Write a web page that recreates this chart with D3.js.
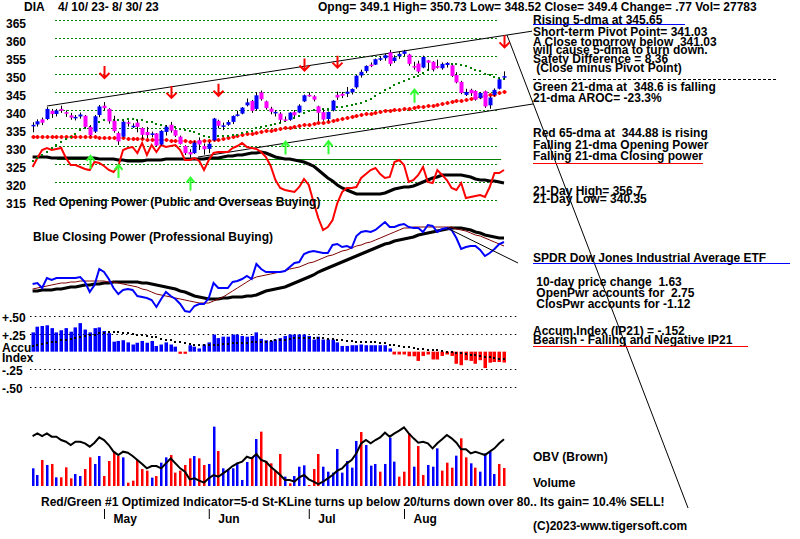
<!DOCTYPE html>
<html><head><meta charset="utf-8">
<script src="https://cdn.jsdelivr.net/npm/d3@7"></script>
<style>
html,body{margin:0;padding:0;background:#fff;}
svg{display:block;}
text{font-family:"Liberation Sans",Arial,sans-serif;font-weight:bold;font-size:12px;white-space:pre;fill:#000;}
</style></head><body>
<svg id="c" width="800" height="539"></svg>
<script>
// ---------------- DATA ----------------
const opens=[335.5,336.0,337.4,337.5,339.8,338.9,340.3,339.4,338.5,337.9,
 338.2,338.4,335.3,334.0,338.6,341.2,340.3,337.0,333.6,332.6,
 336.6,335.6,336.5,335.0,333.9,333.3,333.5,330.4,333.9,335.9,
 334.4,332.6,330.0,328.3,328.0,331.6,330.0,329.2,331.6,337.0,
 335.6,335.9,336.7,338.5,339.0,341.3,342.5,340.3,344.9,342.4,
 340.4,339.2,339.0,337.4,337.3,339.4,339.3,342.4,344.2,343.8,
 341.0,339.4,337.5,339.9,344.2,344.5,344.5,344.9,346.3,349.6,
 350.8,352.6,352.6,354.2,354.4,356.0,353.6,354.9,355.6,355.4,
 352.2,352.9,351.8,353.8,353.4,352.2,351.6,352.5,352.4,349.7,
 347.8,344.2,345.6,345.3,343.3,345.2,341.3,344.2,345.9,349.1];
const closes=[335.87,336.85,336.47,340.30,338.86,339.87,339.77,338.97,337.87,338.09,
 338.75,335.31,333.02,338.26,340.98,340.52,336.85,334.14,331.28,336.74,
 336.19,335.62,335.31,333.10,333.01,333.49,330.12,334.21,335.36,334.27,
 332.87,330.56,328.00,327.65,330.93,330.43,329.08,330.62,337.63,335.63,
 335.73,336.65,338.34,338.77,340.66,342.12,339.79,344.08,342.99,340.54,
 339.52,339.47,337.27,337.15,339.27,338.53,341.22,344.08,344.18,342.89,
 339.22,337.35,339.44,342.61,343.47,343.95,345.09,345.85,349.52,350.61,
 352.25,352.28,354.11,354.38,355.20,352.83,354.59,355.60,356.31,352.83,
 352.16,350.66,354.73,353.14,351.23,351.76,352.81,353.08,349.46,347.66,
 344.75,345.01,344.64,342.89,344.73,340.99,343.47,345.60,348.53,349.40];
const highs=[336.6,337.4,337.9,340.8,340.3,340.3,341.2,339.9,339.2,338.6,
 339.3,338.6,335.8,338.6,341.4,342.2,340.5,338.4,334.0,337.0,
 337.1,336.3,337.2,335.2,335.3,334.0,333.6,334.4,335.8,336.7,
 334.6,332.9,330.2,329.1,331.3,332.4,330.7,331.1,337.8,337.3,
 336.5,337.2,338.5,339.8,340.8,343.2,342.8,345.0,345.4,342.6,
 340.9,340.0,339.4,338.2,339.4,340.0,341.6,344.3,344.9,344.1,
 341.2,340.2,339.6,342.8,345.1,345.0,346.4,346.0,349.8,351.2,
 352.4,353.2,354.3,355.0,355.6,356.7,355.2,356.2,356.7,355.6,
 353.4,353.7,355.1,353.9,353.6,354.0,353.2,353.3,352.6,350.5,
 348.1,345.9,345.9,345.5,345.0,345.4,343.8,346.0,348.8,350.73];
const lows=[333.8,335.4,335.8,337.2,337.8,338.2,339.2,338.1,337.3,337.1,
 337.6,335.0,332.8,333.6,338.0,339.9,336.2,333.7,330.3,332.4,
 335.4,335.0,333.8,332.0,332.2,332.4,329.9,330.1,332.9,333.7,
 332.5,330.4,327.5,326.8,327.8,328.9,327.6,328.0,331.4,334.9,
 334.4,335.6,336.1,338.2,338.8,341.0,339.2,339.8,342.6,340.1,
 338.8,338.2,336.4,336.8,337.0,338.0,339.1,342.2,343.7,342.4,
 336.9,337.0,336.9,339.6,342.8,343.3,343.6,344.3,345.9,349.0,
 350.3,351.9,352.5,353.6,353.7,352.2,353.1,354.2,355.0,352.3,
 351.2,350.2,351.6,351.0,350.7,351.5,351.2,351.8,349.2,347.4,
 344.4,343.9,343.9,342.6,343.0,340.6,340.35,343.8,345.7,348.52];
const ma21=[325.85,326.70,327.57,328.46,329.42,330.25,331.25,332.04,332.62,333.47,
 334.31,334.93,335.34,336.02,336.68,337.25,337.44,337.36,337.23,337.32,
 337.38,337.37,337.29,337.13,336.79,336.53,336.07,335.80,335.63,335.46,
 335.21,334.82,334.47,334.22,333.87,333.36,332.82,332.52,332.69,332.90,
 332.85,332.87,333.00,333.16,333.52,333.96,334.26,334.92,335.34,335.59,
 335.84,336.15,336.47,336.91,337.46,337.82,338.34,339.05,339.70,339.95,
 340.12,340.19,340.33,340.53,340.75,340.91,341.05,341.34,341.60,341.96,
 342.52,343.13,343.83,344.64,345.50,346.15,346.91,347.60,348.18,348.59,
 349.03,349.58,350.40,351.06,351.47,351.86,352.28,352.66,352.84,352.75,
 352.47,352.12,351.76,351.23,350.77,350.09,349.64,349.21,348.88,348.55];
const ma65=[332.5,332.5,332.5,332.5,332.5,332.5,332.5,332.5,332.5,332.5,
 332.4,332.4,332.4,332.4,332.3,332.3,332.2,332.2,332.1,332.1,
 332.0,332.0,331.9,331.9,331.8,331.8,331.7,331.7,331.6,331.5,
 331.4,331.4,331.3,331.2,331.1,331.2,331.3,331.5,331.6,331.8,
 332.0,332.2,332.5,332.7,333.0,333.2,333.4,333.7,333.9,334.1,
 334.3,334.5,334.7,334.9,335.1,335.3,335.5,335.7,335.9,336.1,
 336.3,336.5,336.7,337.0,337.3,337.5,337.8,338.1,338.3,338.6,
 338.8,339.0,339.2,339.4,339.6,339.8,340.0,340.1,340.3,340.4,
 340.6,340.7,340.9,341.0,341.2,341.4,341.7,341.9,342.1,342.4,
 342.6,342.9,343.1,343.4,343.6,343.9,344.1,344.3,344.6,344.88];
const openPower=[65,74,82,84,82,83,84,74,67,67,
 65,63,62,70,69,66,62,60,66,82,
 84,85,79,89,77,87,80,87,85,86,
 87,82,72,72,74,71,62,72,79,80,
 80,80,84,86,89,85,84,83,80,75,
 66,52,44,42,41,40,45,53,47,30,
 14,2,5,12,29,40,44,44,45,54,
 58,62,64,58,54,55,70,72,67,50,
 52,57,65,50,49,62,57,52,44,42,
 49,34,35,36,37,35,45,59,59,62];
const openPowerMA=[75,75,75,75,74,74,74,74,74,74,
 74,74,74,74,73,73,73,73,72,72,
 71,71,71,71,72,72,72,72,73,73,
 73,73,73,73,73,73,73,74,74,74,
 75,76,76,77,77,78,79,79,80,79,
 77,75,74,73,73,72,71,70,68,66,
 62,58,54,51,47,44,42,40,38,38,
 38,38,38,38,39,41,43,44,45,45,
 46,48,50,52,54,55,57,57,57,57,
 57,56,55,53,52,52,51,51,50,49];
const openPowerLevel=73;
const closePower=[36,37,32,42,40,42,42,42,42,42,
 43,38,28,35,51,48,41,32,26,30,
 31,30,24,23,22,20,13,21,28,24,
 21,16,9,8,14,16,16,22,37,32,
 32,32,38,39,41,44,41,56,51,48,
 48,48,48,49,53,57,58,66,68,69,
 68,67,67,75,76,73,74,72,84,88,
 89,88,90,94,98,93,93,95,96,93,
 92,92,88,95,94,88,91,92,90,82,
 71,73,74,74,70,64,67,71,76,78];
const closePowerMA=[29,29,30,30,30,31,31,32,33,33,
 34,35,35,36,36,37,37,38,38,38,
 38,38,38,37,37,36,35,34,33,32,
 31,29,28,26,24,23,22,21,21,21,
 22,22,23,23,23,24,24,25,27,29,
 30,31,32,33,35,37,39,41,43,45,
 48,50,52,54,56,58,60,62,64,66,
 68,70,72,74,76,77,79,80,81,82,
 83,85,86,87,88,89,90,91,92,92,
 92,91,90,88,87,85,84,83,82,82];
const closePowerMA2=[31,32,33,34,35,36,37,37,38,38,
 39,39,39,39,39,39,38,38,37,36,
 35,34,33,31,30,28,26,25,24,23,
 22,21,20,19,18,17,17,17,19,21,
 23,26,29,32,35,38,41,43,44,45,
 46,47,48,49,51,52,53,55,57,58,
 60,62,64,65,67,69,70,72,74,75,
 77,78,80,82,84,86,88,90,92,92,
 93,93,93,93,93,93,93,93,93,91,
 90,89,87,85,84,82,80,78,76,74];
const accum=[.27,.35,.36,.37,.33,.27,.30,.33,.28,.34,
 .40,.31,.27,.33,.34,.29,.26,.14,.15,.16,
 .13,.10,.125,.15,.125,.15,.08,.10,.13,.10,
 .07,-.03,-.03,.09,.07,.045,.10,.13,.24,.19,
 .21,.21,.24,.24,.22,.21,.22,.27,.18,.16,
 .15,.17,.19,.22,.24,.24,.24,.24,.22,.17,
 .21,.17,.17,.17,.13,.08,.08,.09,.09,.10,
 .09,.09,.09,.09,.09,.045,-.04,-.04,-.04,-.065,
 -.065,-.13,-.06,-.04,-.11,-.11,-.06,-.04,-.06,-.17,
 -.19,-.12,-.13,-.17,-.12,-.23,-.155,-.145,-.145,-.152];
const accumMA=[.08,.09,.11,.12,.13,.14,.16,.17,.18,.19,
 .20,.22,.23,.24,.26,.26,.27,.27,.27,.26,
 .26,.25,.24,.23,.22,.21,.20,.18,.17,.16,
 .14,.13,.12,.11,.10,.09,.09,.09,.10,.10,
 .11,.11,.115,.12,.12,.125,.13,.13,.14,.14,
 .15,.16,.17,.17,.18,.19,.19,.19,.19,.19,
 .19,.19,.18,.18,.17,.16,.15,.15,.14,.14,
 .13,.13,.13,.125,.12,.10,.09,.08,.07,.06,
 .05,.04,.035,.03,.03,.02,.01,0,-.01,-.02,
 -.025,-.03,-.04,-.05,-.06,-.07,-.08,-.09,-.10,-.10];
const volume=[27.3,17.0,40.1,32.4,34.0,13.4,13.4,28.8,11.8,18.5,
 15.4,26.2,44.2,34.0,46.3,15.4,38.6,53.0,46.3,44.2,
 5.1,8.2,40.1,26.2,23.7,12.9,15.4,36.0,44.2,47.8,
 20.6,23.7,32.4,42.7,46.3,42.7,32.4,34.0,91.6,54.0,
 27.3,26.2,27.3,36.0,9.3,37.0,44.2,72.5,83.9,38.6,
 35.0,23.2,49.4,14.4,4.1,15.4,29.8,31.9,1.5,26.2,
 49.4,29.8,22.1,20.6,57.1,20.6,38.6,28.3,69.5,83.3,
 63.3,31.4,34.0,22.1,34.0,74.6,37.6,14.4,22.1,81.3,
 29.8,61.7,17.0,32.4,29.8,58.1,23.7,36.0,28.3,46.8,
 73.6,44.2,35.0,28.3,22.1,50.4,53.0,18.5,34.0,27.8];
const volumeUp="BBRBRBRRRBBRRBBRRRRBRRRRRBRBBRRRRRBRRBBRBBBBBBRBRRRRRBRBBBRRRBBBBBBBBRBBBRBBBRRRBRRBBBRRRBRRBRBBBB";
const obv=[152,160,152,160,150,150,140,135,125,135,
 135,130,120,132,148,140,125,105,95,105,
 102,92,80,68,55,62,62,55,70,85,
 70,55,45,22,25,18,12,25,35,30,
 40,50,62,70,75,90,85,98,80,75,
 60,48,35,20,20,15,28,35,22,15,
 8,15,25,35,48,55,70,80,100,130,
 140,130,140,148,162,150,160,168,178,160,
 145,132,135,130,115,130,142,155,145,132,
 112,112,100,105,100,95,105,115,130,142];
const priceTicks=[365,360,355,350,345,340,335,330,325,320,315];
const accumTicks=[0.5,0.25,-0.25,-0.5];
const accumTickLabels=["+.50","+.25","-.25","-.50"];
const monthIdx=[15,37,58,78];
const monthLabels=["May","Jun","Jul","Aug"];
const sellIdx=[15,29,39,57,64,99];
const buyIdx=[12,18,33,53,62,80];
const priceTrendlines=[{i0:3.0,v0:341.1,i1:104.9,v1:361.9},{i0:99.63,v0:360.83,i1:137.65,v1:229.44},{i0:34.74,v0:326.94,i1:105.09,v1:341.67}];
const cpTrendline={i0:87.03,v0:92,i1:101.94,v1:57};

// ---------------- SCALES ----------------
const svg=d3.select("#c");
const x=d3.scaleLinear().domain([0,99]).range([32.6,504]);
const yP=d3.scaleLinear().domain([315,365]).range([200,20]);
const yOP=d3.scaleLinear().domain([0,100]).range([232,132]);
const yCP=d3.scaleLinear().domain([0,100]).range([320,220]);
const yA=d3.scaleLinear().domain([-0.5,0.5]).range([387.3,316]);
const yV=d3.scaleLinear().domain([0,100]).range([486,421.2]);
const yO=d3.scaleLinear().domain([0,260]).range([486.7,400]);
const idx=d3.range(closes.length);
const px=i=>Math.round(x(i));

// ---------------- PRICE PANEL ----------------
svg.append("g").selectAll("line").data(priceTicks).join("line")
 .attr("x1",55).attr("x2",497)
 .attr("y1",d=>Math.round(yP(d))+0.5).attr("y2",d=>Math.round(yP(d))+0.5)
 .attr("stroke","#008000").attr("stroke-dasharray","2,2");
const gy=svg.append("g").call(d3.axisLeft(yP).tickValues(priceTicks).tickSize(0).tickFormat(d3.format("d")));
gy.select(".domain").remove();
gy.selectAll("text").attr("x",6).attr("dy",7).attr("text-anchor","start");

// opening power reference level
svg.append("line").attr("x1",x(5.1)).attr("x2",x(98.4))
 .attr("y1",Math.round(yOP(openPowerLevel))+0.5).attr("y2",Math.round(yOP(openPowerLevel))+0.5)
 .attr("stroke","#008000").attr("stroke-width",1);

// trendlines
svg.append("g").selectAll("line").data(priceTrendlines).join("line")
 .attr("x1",d=>x(d.i0)).attr("y1",d=>yP(d.v0)).attr("x2",d=>x(d.i1)).attr("y2",d=>yP(d.v1))
 .attr("stroke","#000").attr("stroke-width",1);

// opening power
svg.append("path").datum(idx).attr("fill","none").attr("stroke","#000").attr("stroke-width",3)
 .attr("d",d3.line().x(i=>x(i)).y(i=>yOP(openPowerMA[i])));
svg.append("path").datum(idx).attr("fill","none").attr("stroke","#ff0000").attr("stroke-width",2)
 .attr("d",d3.line().x(i=>x(i)).y(i=>yOP(openPower[i])));

// 65-dma plus marks
const g65=svg.append("g").attr("fill","#ff0000");
g65.selectAll("rect.h").data(idx).join("rect").attr("class","h")
 .attr("x",i=>px(i)-1.5).attr("y",i=>Math.round(yP(ma65[i]))-1).attr("width",4).attr("height",2);
g65.selectAll("rect.v").data(idx).join("rect").attr("class","v")
 .attr("x",i=>px(i)-0.5).attr("y",i=>Math.round(yP(ma65[i]))-2).attr("width",2).attr("height",4);

// 21-dma dots
svg.append("g").attr("fill","#008000").selectAll("rect").data(idx).join("rect")
 .attr("x",i=>px(i)-1).attr("y",i=>Math.round(yP(ma21[i]))-1).attr("width",2).attr("height",2);

// candles
const gc=svg.append("g");
gc.selectAll("line").data(idx).join("line")
 .attr("x1",i=>px(i)+0.5).attr("x2",i=>px(i)+0.5)
 .attr("y1",i=>yP(highs[i])).attr("y2",i=>yP(lows[i]))
 .attr("stroke","#000").attr("stroke-width",1);
gc.selectAll("rect").data(idx).join("rect")
 .attr("x",i=>px(i)-1.5).attr("width",4)
 .attr("y",i=>yP(Math.max(opens[i],closes[i])))
 .attr("height",i=>Math.max(1.5,Math.abs(yP(opens[i])-yP(closes[i]))))
 .attr("fill",i=>closes[i]>=opens[i]?"#0000ff":"#ff00ff");

// arrows
svg.append("g").selectAll("path").data(sellIdx).join("path")
 .attr("d",i=>{const cx=px(i)+0.5,b=yP(highs[i])-24,t=b-12;return `M${cx},${t}V${b}M${cx-5},${b-5}L${cx},${b}L${cx+5},${b-5}`;})
 .attr("stroke","#ff0000").attr("stroke-width",2).attr("fill","none");
svg.append("g").selectAll("path").data(buyIdx).join("path")
 .attr("d",i=>{const cx=px(i)+0.5,t=yP(lows[i])+20,b=t+13;return `M${cx},${b}V${t}M${cx-4},${t+5}L${cx},${t}L${cx+4},${t+5}`;})
 .attr("stroke","#33ff33").attr("stroke-width",2).attr("fill","none");

// ---------------- CLOSING POWER ----------------
svg.append("path").datum(idx).attr("fill","none").attr("stroke","#000").attr("stroke-width",3)
 .attr("d",d3.line().x(i=>x(i)).y(i=>yCP(closePowerMA[i])));
svg.append("path").datum(idx).attr("fill","none").attr("stroke","#800000").attr("stroke-width",1)
 .attr("d",d3.line().x(i=>x(i)).y(i=>yCP(closePowerMA2[i])));
svg.append("path").datum(idx).attr("fill","none").attr("stroke","#0000ff").attr("stroke-width",2)
 .attr("d",d3.line().x(i=>x(i)).y(i=>yCP(closePower[i])));
svg.append("line").attr("x1",x(cpTrendline.i0)).attr("y1",yCP(cpTrendline.v0))
 .attr("x2",x(cpTrendline.i1)).attr("y2",yCP(cpTrendline.v1)).attr("stroke","#000").attr("stroke-width",1);

// ---------------- ACCUMULATION INDEX ----------------
svg.append("g").selectAll("line").data(accumTicks).join("line")
 .attr("x1",30).attr("x2",518)
 .attr("y1",d=>Math.round(yA(d))+0.5).attr("y2",d=>Math.round(yA(d))+0.5)
 .attr("stroke","#000").attr("stroke-dasharray","1.5,3.3");
const ga=svg.append("g").call(d3.axisLeft(yA).tickValues(accumTicks).tickSize(0).tickFormat((d,i)=>accumTickLabels[i]));
ga.select(".domain").remove();
ga.selectAll("text").attr("x",2).attr("dy",5.5).attr("text-anchor","start");
svg.append("g").selectAll("rect").data(idx).join("rect")
 .attr("x",i=>px(i)-1.5).attr("width",3.5)
 .attr("y",i=>Math.min(yA(0),yA(accum[i])))
 .attr("height",i=>Math.abs(yA(accum[i])-yA(0)))
 .attr("fill",i=>accum[i]>=0?"#0000ff":"#ff0000");
svg.append("g").attr("fill","#000").selectAll("rect").data(idx).join("rect")
 .attr("x",i=>px(i)-1).attr("y",i=>Math.round(yA(accumMA[i]))-1).attr("width",2).attr("height",2);

// ---------------- VOLUME & OBV ----------------
svg.append("g").selectAll("rect").data(idx).join("rect")
 .attr("x",i=>px(i)-1).attr("width",2.5)
 .attr("y",i=>yV(volume[i])).attr("height",i=>yV(0)-yV(volume[i]))
 .attr("fill",i=>volumeUp[i]==="B"?"#0000ff":"#ff0000");
svg.append("path").datum(idx).attr("fill","none").attr("stroke","#000").attr("stroke-width",2)
 .attr("d",d3.line().x(i=>x(i)).y(i=>yO(obv[i])));

// month axis
const gm=svg.append("g").attr("transform","translate(0,509)")
 .call(d3.axisBottom(x).tickValues(monthIdx).tickSize(10).tickFormat((d,i)=>monthLabels[i]));
gm.select(".domain").remove();
gm.selectAll("line").attr("stroke","#000");
gm.selectAll("text").attr("x",9).attr("y",14).attr("dy",0).attr("text-anchor","start");

// ---------------- TEXT ----------------
function T(xx,yy,s){svg.append("text").attr("x",xx).attr("y",yy).text(s);}
T(24,11,"DIA");
T(58,11,"4/ 10/ 23- 8/ 30/ 23");
T(318,11,"Opng= 349.1 High= 350.73 Low= 348.52 Close= 349.4 Change= .77 Vol= 27783");
T(33,206,"Red Opening Power (Public and Overseas Buying)");
T(33,241,"Blue Closing Power (Professional Buying)");
T(2,352,"Accu");
T(2,362,"Index");
T(41,506,"Red/Green #1 Optimized Indicator=5-d St-KLine turns up below 20/turns down over 80.. Its gain= 10.4% SELL!");
const info=[
 [24,"Rising 5-dma at 345.65"],
 [36,"Short-term Pivot Point= 341.03"],
 [46,"A Close tomorrow below  341.03"],
 [54,"will cause 5-dma to turn down."],
 [63,"Safety Difference = 8.36"],
 [72," (Close minus Pivot Point)"],
 [91,"Green 21-dma at  348.6 is falling"],
 [102,"21-dma AROC= -23.3%"],
 [137,"Red 65-dma at  344.88 is rising"],
 [149,"Falling 21-dma Opening Power"],
 [160,"Falling 21-dma Closing power"],
 [195,"21-Day High= 356.7"],
 [203,"21-Day Low= 340.35"],
 [262,"SPDR Dow Jones Industrial Average ETF"],
 [286," 10-day price change  1.63"],
 [297," OpenPwr accounts for  2.75"],
 [308," ClosPwr accounts for -1.12"],
 [335,"Accum.Index (IP21) = -.152"],
 [344,"Bearish - Falling and Negative IP21"],
 [461,"OBV (Brown)"],
 [487,"Volume"],
 [530,"(C)2023-www.tigersoft.com"]
];
info.forEach(d=>T(533,d[0],d[1]));
function L(x1,x2,yy,c,dash){const l=svg.append("line").attr("x1",x1).attr("x2",x2).attr("y1",yy+0.5).attr("y2",yy+0.5).attr("stroke",c).attr("stroke-width",1.2);if(dash)l.attr("stroke-dasharray",dash);}
L(533,685,24,"#0000ff");
L(533,777,79,"#000","3,2");
L(533,703,163,"#ff0000");
L(533,790,263,"#0000ff");
L(533,748,346,"#ff0000");
</script>
</body></html>
